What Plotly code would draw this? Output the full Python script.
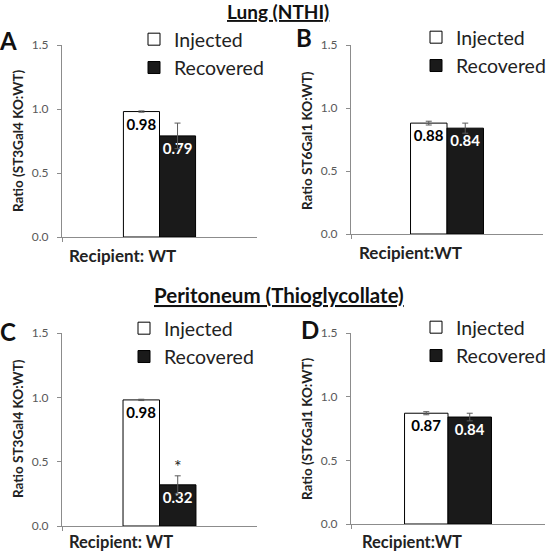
import plotly.graph_objects as go

# ---------------- data ----------------
panels = ["A", "B", "C", "D"]
section_titles = ["Lung (NTHI)", "Peritoneum (Thioglycollate)"]
series_names = ["Injected", "Recovered"]
category = ["WT"]
injected = [0.98, 0.88, 0.98, 0.87]
injected_err = [0.005, 0.015, 0.005, 0.012]
recovered = [0.79, 0.84, 0.32, 0.84]
recovered_err = [0.10, 0.04, 0.07, 0.03]
significance = ["", "", "*", ""]
y_titles = ["Ratio (ST3Gal4 KO:WT)", "Ratio ST6Gal1 KO:WT)",
            "Ratio ST3Gal4 KO:WT)", "Ratio (ST6Gal1 KO:WT)"]
recipient_labels = ["Recipient: WT", "Recipient:WT", "Recipient: WT", "Recipient:WT"]
y_ticks = [0.0, 0.5, 1.0, 1.5]

# ---------------- layout geometry (pixels) ----------------
W, H = 549, 554
FONT = "Lato"
# x0, x1, y_top(1.5), y_zero(0) in pixel coords
boxes = [(62, 257, 45, 237), (351, 543, 45, 234), (62, 257, 333, 526), (351, 545, 333, 524)]
bar_w = [0.185, 0.19, 0.187, 0.224]
legend_pos = [(134, 20), (416, 18), (124, 309), (416, 308)]
ytitle_pos = [(18, 141), (307, 141), (18, 429), (307, 429)]
recip_pos = [(67, 255), (357, 252), (67, 542), (360, 542)]
recip_size = [17, 17, 16.5, 16.5]
letter_pos = [(8, 40), (304, 38), (8, 331), (310, 329)]
title_pos = [(278, 12), (279, 295)]
title_size = [19, 20.5]

def px(x):
    return x / W

def py(y):
    return 1 - y / H

fig = go.Figure()
annotations = []

for i in range(4):
    n = "" if i == 0 else str(i + 1)
    xa, ya = "x" + n, "y" + n
    leg = "legend" + n
    w = bar_w[i]
    fig.add_trace(go.Bar(
        x=category, y=[injected[i]], name=series_names[0],
        xaxis=xa, yaxis=ya, legend=leg, width=w, offset=-w,
        marker=dict(color="white", line=dict(color="black", width=1)),
        error_y=dict(type="data", array=[injected_err[i]], color="#5a5a5a", thickness=1, width=3),
        text=[f"<b>{injected[i]:.2f}</b>"], textposition="inside", insidetextanchor="end",
        textangle=0, constraintext="none",
        textfont=dict(family=FONT, size=15, color="black"),
    ))
    fig.add_trace(go.Bar(
        x=category, y=[recovered[i]], name=series_names[1],
        xaxis=xa, yaxis=ya, legend=leg, width=w, offset=0,
        marker=dict(color="#1a1a1a", line=dict(color="black", width=1)),
        error_y=dict(type="data", array=[recovered_err[i]], color="#5a5a5a", thickness=1, width=3),
        text=[f"<b>{recovered[i]:.2f}</b>"], textposition="inside", insidetextanchor="end",
        textangle=0, constraintext="none",
        textfont=dict(family=FONT, size=15, color="white"),
    ))
    x0, x1, yt, yz = boxes[i]
    fig.update_layout(**{
        "xaxis" + n: dict(domain=[px(x0), px(x1)], anchor=ya, type="category",
                          range=[-0.5, 0.5], tickson="boundaries", ticks="outside",
                          ticklen=4, tickcolor="#8c8c8c", showticklabels=False,
                          showline=True, linecolor="#8c8c8c", linewidth=1,
                          showgrid=False, zeroline=False, fixedrange=True),
        "yaxis" + n: dict(domain=[py(yz), py(yt)], anchor=xa, range=[0, 1.5],
                          tickvals=y_ticks, tickformat=".1f", ticks="outside",
                          ticklen=4, tickcolor="#8c8c8c", showline=True,
                          linecolor="#8c8c8c", linewidth=1, showgrid=False,
                          zeroline=False, ticklabelstandoff=6,
                          tickfont=dict(family=FONT, size=12, color="#595959")),
        leg: dict(x=px(legend_pos[i][0]), y=py(legend_pos[i][1]), xanchor="left",
                  yanchor="top", bgcolor="rgba(0,0,0,0)", borderwidth=0,
                  font=dict(family=FONT, size=19.5, color="#222222"),
                  tracegroupgap=0, traceorder="normal"),
    })
    # y-axis title
    annotations.append(dict(x=px(ytitle_pos[i][0]), y=py(ytitle_pos[i][1]), xref="paper",
                            yref="paper", xanchor="center", yanchor="middle",
                            text=f"<b>{y_titles[i]}</b>", textangle=-90,
                            showarrow=False, font=dict(family=FONT, size=13.5, color="#222222")))
    # recipient label
    annotations.append(dict(x=px(recip_pos[i][0]), y=py(recip_pos[i][1]), xref="paper",
                            yref="paper", xanchor="left", yanchor="middle",
                            text=f"<b>{recipient_labels[i]}</b>",
                            showarrow=False, font=dict(family=FONT, size=recip_size[i], color="#222222")))
    # panel letter
    annotations.append(dict(x=px(letter_pos[i][0]), y=py(letter_pos[i][1]), xref="paper",
                            yref="paper", xanchor="center", yanchor="middle",
                            text=f"<b>{panels[i]}</b>",
                            showarrow=False, font=dict(family=FONT, size=24, color="#111111")))
    # significance mark
    if significance[i]:
        annotations.append(dict(x=w / 2, y=recovered[i] + recovered_err[i], xref=xa, yref=ya,
                                xanchor="center", yanchor="bottom", text=significance[i],
                                showarrow=False, yshift=-3,
                                font=dict(family=FONT, size=18, color="#222222")))

for k, t in enumerate(section_titles):
    annotations.append(dict(x=px(title_pos[k][0]), y=py(title_pos[k][1]), xref="paper",
                            yref="paper", xanchor="center", yanchor="middle",
                            text=f"<b><u>{t}</u></b>", showarrow=False,
                            font=dict(family=FONT, size=title_size[k], color="#111111")))

fig.update_layout(width=W, height=H,
                  margin=dict(l=0, r=0, t=0, b=0, pad=0, autoexpand=False),
                  paper_bgcolor="white", plot_bgcolor="white", barmode="overlay",
                  showlegend=True, annotations=annotations,
                  font=dict(family=FONT))

fig.write_html("out.html", config={"displayModeBar": False},
               post_script="document.body.style.margin='0px';document.body.style.padding='0px';")
